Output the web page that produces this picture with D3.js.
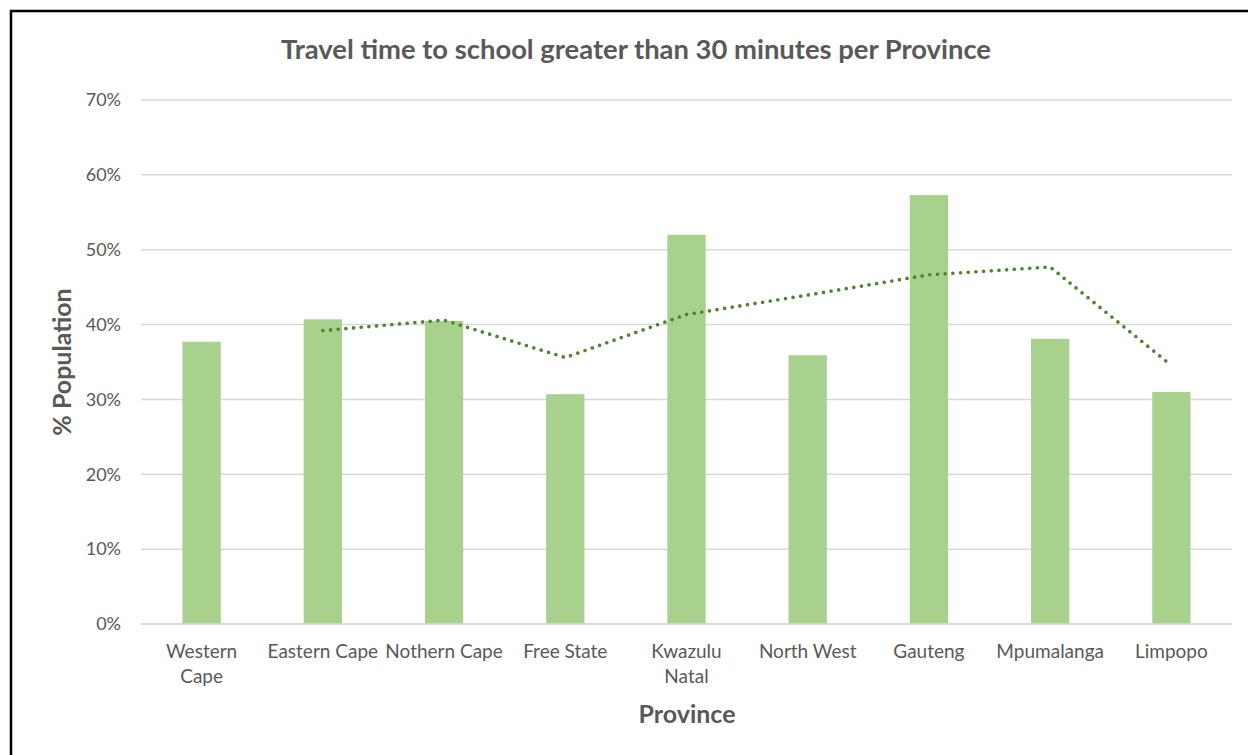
<!DOCTYPE html>
<html>
<head>
<meta charset="utf-8">
<script src="https://cdn.jsdelivr.net/npm/d3@7"></script>
<style>
  html, body { margin: 0; padding: 0; background: #fff; }
  svg { display: block; font-family: "Lato", "Open Sans", "Liberation Sans", sans-serif; }
</style>
</head>
<body>
<svg id="chart" width="1248" height="755"></svg>
<script>
// Share of learners travelling more than 30 minutes to school, by province
const provinces = ["Western Cape", "Eastern Cape", "Nothern Cape", "Free State", "Kwazulu Natal",
                   "North West", "Gauteng", "Mpumalanga", "Limpopo"];
const provinceLabelLines = [["Western", "Cape"], ["Eastern Cape"], ["Nothern Cape"], ["Free State"],
                            ["Kwazulu", "Natal"], ["North West"], ["Gauteng"], ["Mpumalanga"], ["Limpopo"]];
const shareOver30 = [37.7, 40.7, 40.5, 30.7, 52.0, 35.9, 57.3, 38.1, 31.0];
// 2-period moving average trendline (starts at the second province)
const trendProvinces = ["Eastern Cape", "Nothern Cape", "Free State", "Kwazulu Natal",
                        "North West", "Gauteng", "Mpumalanga", "Limpopo"];
const trendValues = [39.2, 40.6, 35.6, 41.35, 43.95, 46.65, 47.7, 34.55];
const yTicks = [0, 10, 20, 30, 40, 50, 60, 70];

const svg = d3.select("#chart");
const plot = { left: 141, right: 1232, top: 100, bottom: 624 };

const x = d3.scaleBand().domain(provinces).range([plot.left, plot.right]).padding(0);
const y = d3.scaleLinear().domain([0, 70]).range([plot.bottom, plot.top]);
const barW = x.bandwidth() * 0.316;

// chart frame edge
svg.append("rect")
  .attr("x", 11).attr("y", 11).attr("width", 1300).attr("height", 800)
  .attr("fill", "none").attr("stroke", "#000").attr("stroke-width", 2.5);

// gridlines
svg.append("g").selectAll("line").data(yTicks).join("line")
  .attr("x1", plot.left).attr("x2", plot.right)
  .attr("y1", d => y(d)).attr("y2", d => y(d))
  .attr("stroke", "#d9d9d9").attr("stroke-width", 1.5);

// y axis tick labels
const yAxis = d3.axisLeft(y).tickValues(yTicks).tickFormat(d => d + "%").tickSize(0).tickPadding(20);
svg.append("g").attr("transform", `translate(${plot.left},0)`).call(yAxis)
  .call(g => g.select(".domain").remove())
  .selectAll("text")
  .attr("font-family", "Lato, 'Open Sans', sans-serif")
  .attr("font-size", 18).attr("fill", "#595959");

// bars
svg.append("g").selectAll("rect").data(provinces).join("rect")
  .attr("x", d => x(d) + (x.bandwidth() - barW) / 2)
  .attr("width", barW)
  .attr("y", (d, i) => y(shareOver30[i]))
  .attr("height", (d, i) => y(0) - y(shareOver30[i]))
  .attr("fill", "#a9d18e");

// category axis line
svg.append("line")
  .attr("x1", plot.left).attr("x2", plot.right)
  .attr("y1", y(0)).attr("y2", y(0))
  .attr("stroke", "#d9d9d9").attr("stroke-width", 1.5);

// moving average trendline
const line = d3.line()
  .x((d, i) => x(trendProvinces[i]) + x.bandwidth() / 2)
  .y(d => y(d));
svg.append("path")
  .datum(trendValues)
  .attr("d", line)
  .attr("fill", "none")
  .attr("stroke", "#548235")
  .attr("stroke-width", 3.7)
  .attr("stroke-linecap", "round")
  .attr("stroke-dasharray", "0 7.7");

// category labels
const xl = svg.append("g").selectAll("text").data(provinces).join("text")
  .attr("x", d => x(d) + x.bandwidth() / 2)
  .attr("y", 658)
  .attr("text-anchor", "middle")
  .attr("font-size", 19)
  .attr("fill", "#595959");
xl.selectAll("tspan").data((d, i) => provinceLabelLines[i]).join("tspan")
  .attr("x", function () { return d3.select(this.parentNode).attr("x"); })
  .attr("dy", (d, i) => i === 0 ? 0 : 25)
  .text(d => d);

// title
svg.append("text")
  .attr("x", 636).attr("y", 59)
  .attr("text-anchor", "middle")
  .attr("font-size", 27.4).attr("font-weight", "bold")
  .attr("fill", "#595959")
  .text("Travel time to school greater than 30 minutes per Province");

// axis titles
svg.append("text")
  .attr("transform", "translate(71,362) rotate(-90)")
  .attr("text-anchor", "middle")
  .attr("font-size", 25).attr("font-weight", "bold")
  .attr("fill", "#595959")
  .text("% Population");

svg.append("text")
  .attr("x", 687).attr("y", 723)
  .attr("text-anchor", "middle")
  .attr("font-size", 25).attr("font-weight", "bold")
  .attr("fill", "#595959")
  .text("Province");
</script>
</body>
</html>
